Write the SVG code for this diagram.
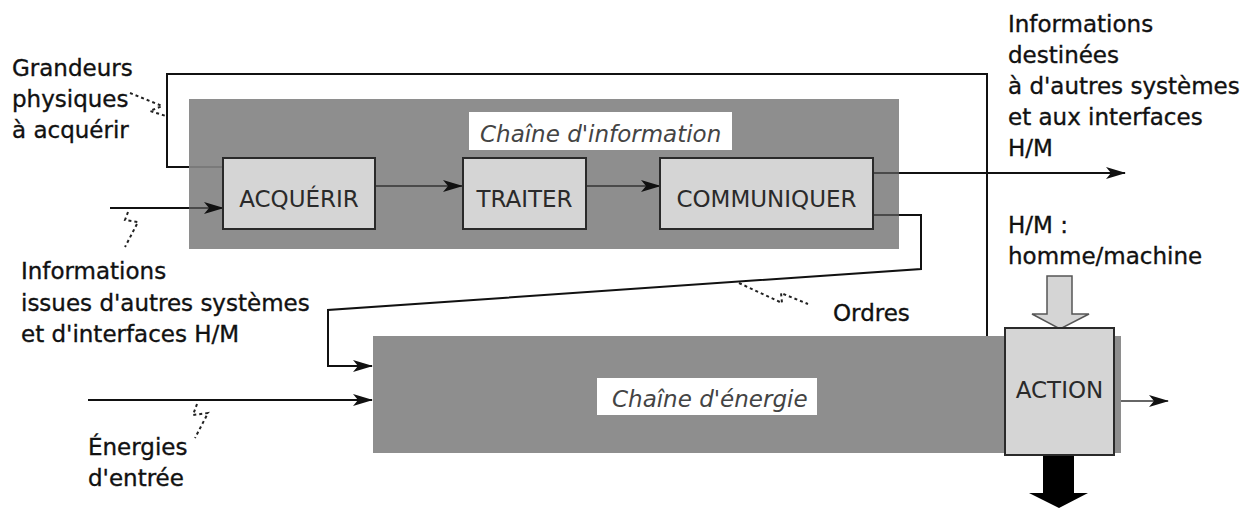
<svg xmlns="http://www.w3.org/2000/svg" width="1258" height="508" viewBox="0 0 1258 508">
<defs>
<style>
.lbl{font-family:"DejaVu Sans","Liberation Sans",sans-serif;font-size:23px;fill:#111;stroke:#111;stroke-width:0.35}
.box{fill:#d5d5d5;stroke:#2a2a2a;stroke-width:2}
.btx{font-family:"DejaVu Sans","Liberation Sans",sans-serif;font-size:23px;fill:#2a2a2a;text-anchor:middle}
.ttl{font-family:"DejaVu Sans","Liberation Sans",sans-serif;font-size:23px;font-style:italic;fill:#444}
.chain{fill:#8e8e8e}
.ln{fill:none;stroke:#111;stroke-width:2}
.thin{fill:none;stroke:#333;stroke-width:1.5}
.dash{fill:none;stroke:#222;stroke-width:2;stroke-dasharray:3,3}
</style>
<marker id="ah" viewBox="0 0 20 12" refX="19" refY="6" markerWidth="20" markerHeight="12" markerUnits="userSpaceOnUse" orient="auto">
<path d="M0,0 L20,6 L0,12 L5,6 z" fill="#111"/>
</marker>
</defs>
<rect width="1258" height="508" fill="#fff"/>

<g id="chaine-information">
<rect class="chain" x="189" y="99" width="710" height="150"/>
<rect x="469" y="112" width="263" height="38" fill="#fff"/>
<text class="ttl" x="480" y="142">Chaîne d'information</text>
</g>

<g id="chaine-energie">
<rect class="chain" x="373" y="336" width="748" height="117"/>
<rect x="597" y="378" width="220" height="37" fill="#fff"/>
<text class="ttl" x="612" y="407">Chaîne d'énergie</text>
</g>

<g id="connectors">
<polyline class="ln" points="987,336 987,74 167,74 167,167 189,167"/>
<line x1="189" y1="167" x2="223" y2="167" stroke="#666" stroke-width="1.2"/>
<line class="ln" x1="110" y1="208" x2="189" y2="208" stroke-width="2.5"/>
<line class="thin" x1="189" y1="208" x2="223" y2="208" marker-end="url(#ah)"/>
<line class="thin" x1="375" y1="186" x2="462" y2="186" marker-end="url(#ah)"/>
<line class="thin" x1="586" y1="186" x2="660" y2="186" marker-end="url(#ah)"/>
<line class="thin" x1="873" y1="173" x2="899" y2="173"/>
<line class="ln" x1="899" y1="173" x2="1125" y2="173" stroke-width="2.5" marker-end="url(#ah)"/>
<polyline class="thin" points="873,215 899,215"/>
<polyline class="ln" points="899,215 921,215 921,269 328,310 328,366 372,366" marker-end="url(#ah)"/>
<line class="ln" x1="88" y1="400" x2="372" y2="400" marker-end="url(#ah)"/>
<line class="thin" x1="1121" y1="401" x2="1168" y2="401" marker-end="url(#ah)"/>
<path d="M1047,276 L1072,276 L1072,314 L1089,314 L1060,329 L1032,314 L1047,314 z" fill="#d5d5d5" stroke="#555" stroke-width="1.5"/>
<path d="M1043,455 L1074,455 L1074,493 L1088,493 L1059,508 L1029,493 L1043,493 z" fill="#000"/>
<path class="dash" d="M130,93 L162,106 L150,111 L166,116"/>
<path class="dash" d="M128,212 L125,220 L138,222 L125,247"/>
<path class="dash" d="M739,283 L782,303 L781,293 L808,304"/>
<path class="dash" d="M197,404 L193,415 L208,413 L195,438"/>
</g>

<g id="acquerir">
<rect class="box" x="223" y="158" width="152" height="71"/>
<text class="btx" x="299" y="207">ACQUÉRIR</text>
</g>
<g id="traiter">
<rect class="box" x="463" y="158" width="123" height="71"/>
<text class="btx" x="524.5" y="207">TRAITER</text>
</g>
<g id="communiquer">
<rect class="box" x="660" y="158" width="213" height="71"/>
<text class="btx" x="766.5" y="207">COMMUNIQUER</text>
</g>
<g id="action">
<rect class="box" x="1005" y="328" width="109" height="127" fill="#d8d8d8"/>
<text class="btx" x="1059.5" y="398" fill="#111">ACTION</text>
</g>

<g id="labels">
<text class="lbl" x="12" y="76">Grandeurs</text>
<text class="lbl" x="12" y="107">physiques</text>
<text class="lbl" x="12" y="138">à acquérir</text>
<text class="lbl" x="21" y="279">Informations</text>
<text class="lbl" x="21" y="311">issues d'autres systèmes</text>
<text class="lbl" x="21" y="342">et d'interfaces H/M</text>
<text class="lbl" x="88" y="455">Énergies</text>
<text class="lbl" x="88" y="486">d'entrée</text>
<text class="lbl" x="833" y="321">Ordres</text>
<text class="lbl" x="1008" y="32">Informations</text>
<text class="lbl" x="1008" y="63">destinées</text>
<text class="lbl" x="1008" y="94">à d'autres systèmes</text>
<text class="lbl" x="1008" y="125">et aux interfaces</text>
<text class="lbl" x="1008" y="156">H/M</text>
<text class="lbl" x="1008" y="233">H/M :</text>
<text class="lbl" x="1008" y="264">homme/machine</text>
</g>
</svg>
